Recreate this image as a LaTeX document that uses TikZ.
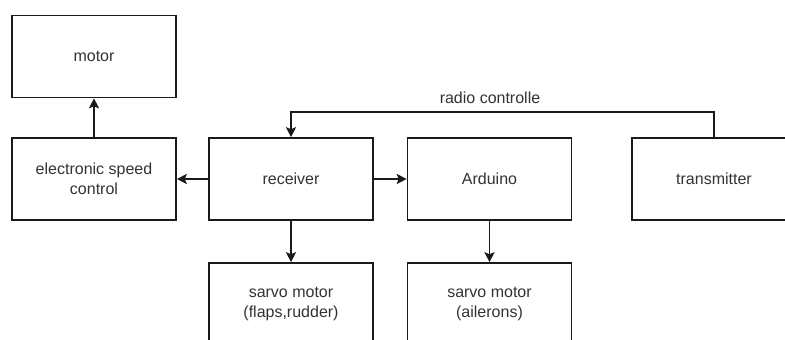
\documentclass[tikz,border=0pt]{standalone}
\usepackage{fontspec}
\setmainfont{Liberation Sans}
\usetikzlibrary{arrows.meta}
\definecolor{ink}{HTML}{1A1A1A}
\definecolor{txt}{HTML}{333333}
\begin{document}
\begin{tikzpicture}[x=1pt,y=-1pt,
  block/.style={draw=ink, line width=1.6pt, fill=white, rectangle,
    minimum width=164pt, minimum height=82pt, align=center,
    text=txt, font=\fontsize{16}{20}\selectfont, inner sep=0pt},
  link/.style={draw=ink, line width=1.6pt,
    -{Stealth[length=10pt,width=10pt,inset=2pt]}}]
\useasboundingbox (0,0) rectangle (785,340);
\clip (0,0) rectangle (785,340);
\fill[white] (0,0) rectangle (785,340);

% blocks
\node[block] (motor)   at (94,56.5)  {motor};
\node[block] (esc)     at (94,179)   {electronic speed\\control};
\node[block] (rx)      at (291,179)  {receiver};
\node[block] (ard)     at (489.5,179){Arduino};
\node[block] (tx)      at (714,179)  {transmitter};
\node[block] (servoA)  at (291,304)  {sarvo motor\\(flaps,rudder)};
\node[block] (servoB)  at (489.5,304){sarvo motor\\(ailerons)};

% radio link from transmitter to receiver
\coordinate (bend) at (714,112);
\draw[link] (tx.north) -- (bend) -| (rx.north);
\node[text=txt, font=\fontsize{16}{20}\selectfont] (radio) at (490,98) {radio controlle};

% wired connections
\draw[link] (esc.north) -- (motor.south);
\draw[link] (rx.west) -- (esc.east);
\draw[link] (rx.east) -- (ard.west);
\draw[link] (rx.south) -- (servoA.north);
\draw[link] (ard.south) -- (servoB.north);
\end{tikzpicture}
\end{document}
